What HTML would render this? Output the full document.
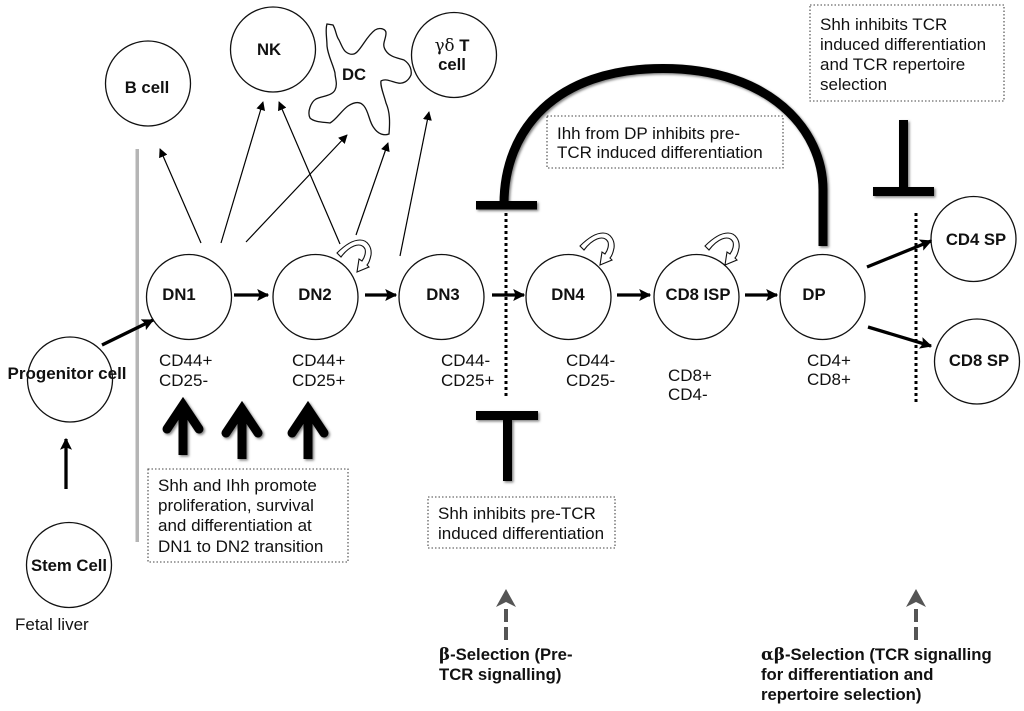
<!DOCTYPE html>
<html><head><meta charset="utf-8"><style>
html,body{margin:0;padding:0;background:#fff}
svg{display:block}
text{font-family:"Liberation Sans",sans-serif;fill:#111}
.b{font-weight:bold;font-size:16.7px;text-anchor:middle}
.n{font-size:17px}
.t{font-size:17px}
.c{fill:#fff;stroke:#111;stroke-width:1.3}
.d{fill:#fff;stroke:#444;stroke-width:1.1;stroke-dasharray:1.5 2}
.a{stroke:#000;stroke-width:1.2;fill:none}
.h{stroke:#000;stroke-width:3.3;fill:none}
.v{stroke:#000;stroke-width:3;stroke-dasharray:3 3;fill:none}
.sel{font-weight:bold;font-size:16.7px}
</style></head><body>
<svg width="1024" height="711" viewBox="0 0 1024 711" xmlns="http://www.w3.org/2000/svg">
<defs>
<filter id="s" x="-30%" y="-30%" width="170%" height="170%"><feDropShadow dx="1.5" dy="1.5" stdDeviation="1.4" flood-color="#000" flood-opacity=".5"/></filter>
<marker id="m" viewBox="0 0 10 10" refX="9" refY="5" markerWidth="9" markerHeight="9" markerUnits="userSpaceOnUse" orient="auto"><path d="M0 0L10 5L0 10z" fill="#000"/></marker>
<marker id="k" viewBox="0 0 10 10" refX="9" refY="5" markerWidth="12" markerHeight="12" markerUnits="userSpaceOnUse" orient="auto"><path d="M0 0L10 5L0 10L2 5z" fill="#000"/></marker>
<path id="curl" d="M-20 -19 C-12 -27 -4 -32 3 -32 C11 -32 15 -24 14 -17 C13 -12 12 -9 10 -7 L12 -5 L0 0 L2 -13 L5 -11 C8 -15 9 -20 8 -23 C6 -27 2 -28 -3 -26 C-8 -24 -13 -19 -16 -15 Z" fill="#fff" stroke="#111" stroke-width="1.1"/>
<g id="up"><path d="M-16 -26 L0 -50 L16 -26" stroke="#000" stroke-width="9" stroke-linecap="round" stroke-linejoin="miter" stroke-miterlimit="10" fill="none"/><rect x="-4.5" y="-48" width="9" height="48" fill="#000"/></g>
</defs>

<rect x="135.5" y="149" width="3.5" height="393" fill="#b5b5b5"/>

<!-- thin arrows -->
<g class="a">
<line x1="201" y1="243" x2="160" y2="149" marker-end="url(#m)"/>
<line x1="221" y1="243" x2="263" y2="102" marker-end="url(#m)"/>
<line x1="246" y1="242" x2="347" y2="135" marker-end="url(#m)"/>
<line x1="340" y1="244" x2="279" y2="102" marker-end="url(#m)"/>
<line x1="356" y1="235" x2="388" y2="143" marker-end="url(#m)"/>
<line x1="400" y1="256" x2="429" y2="112" marker-end="url(#m)"/>
</g>

<!-- circles -->
<circle class="c" cx="148" cy="83.5" r="42.5"/>
<circle class="c" cx="273" cy="49.5" r="42.5"/>
<circle class="c" cx="454" cy="55" r="42.5"/>
<circle class="c" cx="189" cy="297" r="42.5"/>
<circle class="c" cx="315.5" cy="297" r="42.5"/>
<circle class="c" cx="441.5" cy="297" r="42.5"/>
<circle class="c" cx="568.5" cy="297" r="42.5"/>
<circle class="c" cx="696.5" cy="297" r="42.5"/>
<circle class="c" cx="822.5" cy="297" r="42.5"/>
<circle class="c" cx="973.5" cy="239" r="42.5"/>
<circle class="c" cx="977" cy="361.5" r="42.5"/>
<circle class="c" cx="70" cy="379.5" r="42.5"/>
<circle class="c" cx="69" cy="565" r="42.5"/>

<path d="M327 24 L333 25 C336 30 336 36 339 40 C342 46 343 50 346 52 C350 55 354 55 357 52 C363 46 367 36 375 30 C380 27 386 29 386 33 C386 40 381 44 386 51 C390 57 398 58 404 60 C410 64 412 70 411 75 C408 82 402 84 398 83 C392 82 386 78 381 81 C380 86 384 95 386 103 C390 112 390 122 389 134 C384 136 378 134 374 128 C369 122 369 112 364 106 C360 101 354 102 348 106 C342 110 336 120 330 123 C322 122 314 122 310 118 C307 112 311 102 316 99 C322 96 332 96 335 90 C338 84 335 78 335 73 C333 64 328 56 327 46 C327 38 325 30 327 24 Z" fill="#fff" stroke="#111" stroke-width="1.3"/>

<!-- curls -->
<use href="#curl" x="357" y="272"/>
<use href="#curl" x="600" y="265"/>
<use href="#curl" x="725" y="265"/>

<!-- thick horizontal arrows -->
<g class="h">
<line x1="234" y1="295" x2="268" y2="295" marker-end="url(#k)"/>
<line x1="365" y1="295" x2="396" y2="295" marker-end="url(#k)"/>
<line x1="492" y1="295" x2="524" y2="295" marker-end="url(#k)"/>
<line x1="617" y1="295" x2="650" y2="295" marker-end="url(#k)"/>
<line x1="745" y1="295" x2="777" y2="295" marker-end="url(#k)"/>
<line x1="867" y1="267" x2="931" y2="241" marker-end="url(#k)"/>
<line x1="868" y1="327" x2="931" y2="346" marker-end="url(#k)"/>
<line x1="102" y1="345" x2="153" y2="320" marker-end="url(#k)"/>
<line x1="66" y1="489" x2="66" y2="439" marker-end="url(#k)"/>
</g>

<!-- dotted vertical lines -->
<line class="v" x1="506" y1="213" x2="506" y2="396"/>
<line class="v" x1="916" y1="213" x2="916" y2="404"/>

<!-- inhibitors -->
<g filter="url(#s)">
<path d="M504 204 C504 130 555 68.5 663 68.5 C770 68.5 823 130 823 190 V246" fill="none" stroke="#000" stroke-width="9"/>
<rect x="476" y="201" width="61" height="8.5" fill="#000"/>
<rect x="476" y="411" width="62" height="9" fill="#000"/>
<rect x="503" y="411" width="9" height="70" fill="#000"/>
<rect x="899" y="120" width="9" height="70" fill="#000"/>
<rect x="873" y="187" width="61" height="9" fill="#000"/>
</g>

<!-- block arrows -->
<g filter="url(#s)">
<use href="#up" x="183" y="455"/>
<use href="#up" x="242" y="459"/>
<use href="#up" x="308" y="459"/>
</g>

<!-- dashed grey arrows -->
<g fill="#555">
<path d="M506 589L516 607L506 602L496 607Z"/>
<rect x="504" y="609" width="4" height="13"/><rect x="504" y="627" width="4" height="13"/>
<path d="M916 589L926 607L916 602L906 607Z"/>
<rect x="914" y="609" width="4" height="13"/><rect x="914" y="627" width="4" height="13"/>
</g>

<!-- node labels -->
<text class="b" x="147" y="93">B cell</text>
<text class="b" x="269" y="55">NK</text>
<text class="b" x="354" y="80">DC</text>
<text class="b" x="452" y="51"><tspan font-family="DejaVu Serif,Liberation Serif,serif" font-weight="normal">γδ</tspan> T</text>
<text class="b" x="452" y="70">cell</text>
<text class="b" x="179" y="300">DN1</text>
<text class="b" x="315" y="300">DN2</text>
<text class="b" x="443" y="300">DN3</text>
<text class="b" x="568" y="300">DN4</text>
<text class="b" x="698" y="300">CD8 ISP</text>
<text class="b" x="814" y="300">DP</text>
<text class="b" x="976" y="245">CD4 SP</text>
<text class="b" x="979" y="366">CD8 SP</text>
<text class="b" x="67" y="379" style="font-size:17px">Progenitor cell</text>
<text class="b" x="69" y="571">Stem Cell</text>

<!-- marker labels -->
<g class="n">
<text x="159" y="366">CD44+</text><text x="159" y="386">CD25-</text>
<text x="292" y="366">CD44+</text><text x="292" y="386">CD25+</text>
<text x="441" y="366">CD44-</text><text x="441" y="386">CD25+</text>
<text x="566" y="366">CD44-</text><text x="566" y="386">CD25-</text>
<text x="668" y="381">CD8+</text><text x="668" y="400">CD4-</text>
<text x="807" y="366">CD4+</text><text x="807" y="385">CD8+</text>
<text x="15" y="630">Fetal liver</text>
</g>

<!-- dotted boxes -->
<rect class="d" x="148" y="469" width="200" height="93"/>
<text class="t" x="158" y="491">Shh and Ihh promote</text>
<text class="t" x="158" y="511">proliferation, survival</text>
<text class="t" x="158" y="531">and differentiation at</text>
<text class="t" x="158" y="552">DN1 to DN2 transition</text>

<rect class="d" x="428" y="497" width="187" height="51"/>
<text class="t" x="438" y="519">Shh inhibits pre-TCR</text>
<text class="t" x="438" y="539">induced differentiation</text>

<rect class="d" x="547" y="116" width="236" height="52"/>
<text class="t" x="557" y="139">Ihh from DP inhibits pre-</text>
<text class="t" x="557" y="158">TCR induced differentiation</text>

<rect class="d" x="810" y="5" width="194" height="96"/>
<text class="t" x="820" y="30">Shh inhibits TCR</text>
<text class="t" x="820" y="50">induced differentiation</text>
<text class="t" x="820" y="70">and TCR repertoire</text>
<text class="t" x="820" y="90">selection</text>

<!-- bottom labels -->
<text class="sel" x="439" y="660"><tspan font-family="DejaVu Serif,Liberation Serif,serif">β</tspan>-Selection (Pre-</text>
<text class="sel" x="439" y="680">TCR signalling)</text>
<text class="sel" x="761" y="660"><tspan font-family="DejaVu Serif,Liberation Serif,serif">αβ</tspan>-Selection (TCR signalling</text>
<text class="sel" x="761" y="680">for differentiation and</text>
<text class="sel" x="761" y="700">repertoire selection)</text>
</svg>
</body></html>
